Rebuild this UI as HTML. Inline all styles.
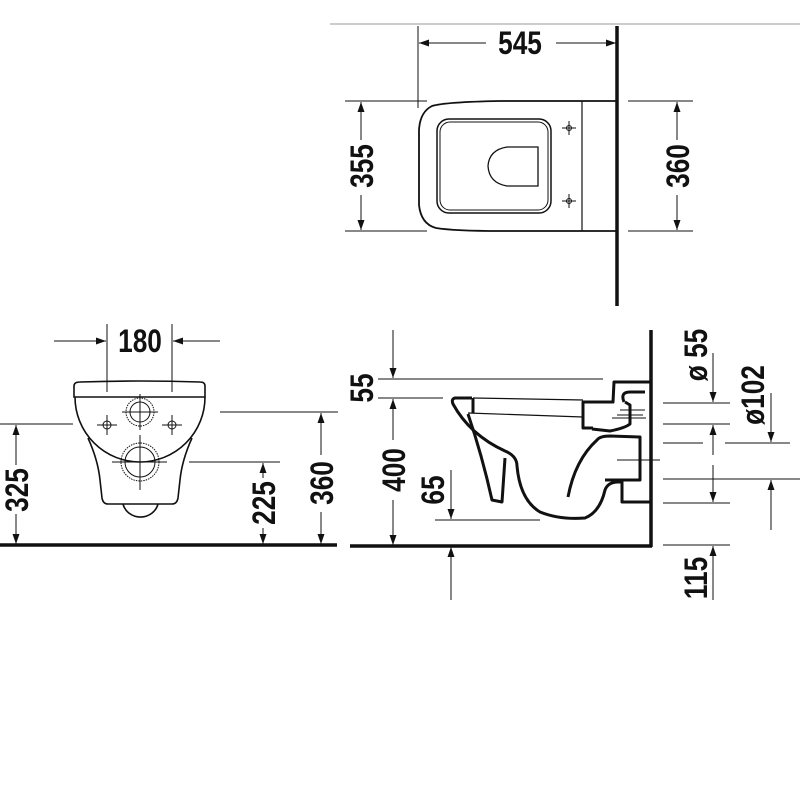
<!DOCTYPE html>
<html><head><meta charset="utf-8"><style>
html,body{margin:0;padding:0;background:#fff;}
svg{display:block;}
text{font-family:"Liberation Sans",sans-serif;font-weight:bold;font-size:32px;fill:#111;}
</style></head><body>
<svg width="800" height="800" viewBox="0 0 800 800" xmlns="http://www.w3.org/2000/svg">
<defs>
<marker id="a" viewBox="0 0 10 10" refX="10" refY="5" markerWidth="16" markerHeight="10" markerUnits="userSpaceOnUse" orient="auto"><path d="M0,1.5 L10,5 L0,8.5 Z" fill="#111"/></marker>
</defs>
<g stroke="#111" fill="none" stroke-width="1">
<line x1="330" y1="24" x2="800" y2="24" stroke="#999"/>
<line x1="617" y1="26" x2="617" y2="306" stroke-width="3.5"/>
<line x1="418" y1="26" x2="418" y2="108"/>
<line x1="486" y1="43" x2="419" y2="43" marker-end="url(#a)"/>
<line x1="556" y1="43" x2="616" y2="43" marker-end="url(#a)"/>
<line x1="345" y1="101" x2="427" y2="101"/>
<line x1="345" y1="231" x2="427" y2="231"/>
<line x1="361" y1="140" x2="361" y2="102" marker-end="url(#a)"/>
<line x1="361" y1="195" x2="361" y2="230" marker-end="url(#a)"/>
<line x1="628" y1="101" x2="693" y2="101"/>
<line x1="628" y1="231" x2="693" y2="231"/>
<line x1="677" y1="140" x2="677" y2="102" marker-end="url(#a)"/>
<line x1="677" y1="195" x2="677" y2="230" marker-end="url(#a)"/>
<path d="M617,101 L500,101 Q445,102 432,106 Q420,112 419,130 L419,205 Q421,224 436,228 Q455,231 500,231 L617,231" stroke-width="1.8"/>
<line x1="582" y1="101" x2="582" y2="231" stroke-width="1.2"/>
<rect x="437" y="119" width="114" height="94" rx="12" stroke-width="1.5"/>
<rect x="440" y="122" width="108" height="88" rx="10" stroke-width="1"/>
<path d="M538,147 L507,147 Q489,150 488,166 Q489,183 507,186 L538,186 Z" stroke-width="1.3"/>
<g stroke-width="1"><circle cx="569" cy="128" r="2.5"/><line x1="562" y1="128" x2="576" y2="128"/><line x1="569" y1="121" x2="569" y2="135"/>
<circle cx="569" cy="201" r="2.5"/><line x1="562" y1="201" x2="576" y2="201"/><line x1="569" y1="194" x2="569" y2="208"/></g>

<line x1="0" y1="545" x2="337" y2="545" stroke-width="3.5"/>
<line x1="107" y1="324" x2="107" y2="392"/>
<line x1="172" y1="324" x2="172" y2="392"/>
<line x1="54" y1="341" x2="106" y2="341" marker-end="url(#a)"/>
<line x1="220" y1="341" x2="173" y2="341" marker-end="url(#a)"/>
<path d="M74,397 L74,386 Q74,382 80,382 Q140,380 200,382 Q205,382 205,386 L205,397 Z" stroke-width="1.6"/>
<path d="M75,397 A65,65 0 0 0 205,397" stroke-width="1.6"/>
<path d="M88,438 Q98,460 100,480 L102,498 Q103,504 108,504 L172,504 Q177,504 178,498 L180,480 Q182,460 192,438" stroke-width="1.6"/>
<path d="M123,504 A18,17 0 0 0 158,504" stroke-width="1.6"/>
<circle cx="140" cy="412" r="14" stroke-dasharray="1.5 1"/><circle cx="140" cy="412" r="10"/>
<line x1="122" y1="412" x2="158" y2="412"/><line x1="140" y1="394" x2="140" y2="430"/>
<circle cx="140" cy="462" r="19" stroke-dasharray="1.5 1"/><circle cx="140" cy="462" r="15"/>
<line x1="112" y1="462" x2="167" y2="462"/><line x1="140" y1="435" x2="140" y2="490"/>
<circle cx="107" cy="425" r="4"/><line x1="97" y1="425" x2="117" y2="425"/><line x1="107" y1="415" x2="107" y2="435"/>
<circle cx="172" cy="425" r="4"/><line x1="162" y1="425" x2="182" y2="425"/><line x1="172" y1="415" x2="172" y2="435"/>
<line x1="0" y1="424" x2="73" y2="424"/>
<line x1="16" y1="465" x2="16" y2="425" marker-end="url(#a)"/>
<line x1="16" y1="514" x2="16" y2="544" marker-end="url(#a)"/>
<line x1="189" y1="462" x2="280" y2="462"/>
<line x1="263" y1="478" x2="263" y2="463" marker-end="url(#a)"/>
<line x1="263" y1="528" x2="263" y2="544" marker-end="url(#a)"/>
<line x1="220" y1="412" x2="338" y2="412"/>
<line x1="321" y1="455" x2="321" y2="413" marker-end="url(#a)"/>
<line x1="321" y1="512" x2="321" y2="544" marker-end="url(#a)"/>

<line x1="350" y1="546" x2="652" y2="546" stroke-width="3.5"/>
<line x1="651" y1="330" x2="651" y2="547" stroke-width="3.5"/>
<line x1="378" y1="379" x2="603" y2="379"/>
<line x1="378" y1="398" x2="443" y2="398"/>
<line x1="393" y1="330" x2="393" y2="378" marker-end="url(#a)"/>
<line x1="393" y1="440" x2="393" y2="399" marker-end="url(#a)"/>
<line x1="393" y1="500" x2="393" y2="545" marker-end="url(#a)"/>
<line x1="435" y1="520" x2="540" y2="520"/>
<line x1="451" y1="470" x2="451" y2="519" marker-end="url(#a)"/>
<line x1="451" y1="600" x2="451" y2="547" marker-end="url(#a)"/>
<g stroke-width="3" stroke-linejoin="round">
<path d="M472,398 L455,398 Q451,399 453,404 Q470,435 505,451 Q517,456 517,466 Q520,500 540,512 Q560,520 585,518 Q600,512 605,490 Q608,482 618,482 L622,482 L622,502 L650,502"/>
<path d="M468,414 Q482,455 492,500 L502,502 L505,458"/>
<line x1="473" y1="398" x2="473" y2="413"/>
<path d="M568,497 Q575,460 597,440 Q600,436 610,436 L640,437 L640,480 L605,480"/>
<path d="M593,428 L583,428 L583,402 L613,402 L614,382 L650,382"/>
<path d="M592,429 L610,431 Q625,428 630,424 L630,405 L625,402"/>
<path d="M624,402 Q620,392 630,392 L645,392"/>
</g>
<line x1="473" y1="398" x2="583" y2="400" stroke-width="1.2"/>
<line x1="468" y1="413" x2="583" y2="417" stroke-width="1.2"/>
<line x1="620" y1="410" x2="645" y2="410"/>
<line x1="617" y1="415" x2="643" y2="415"/>
<line x1="612" y1="418" x2="646" y2="418"/>
<line x1="617" y1="460" x2="660" y2="460"/>
<line x1="663" y1="403" x2="730" y2="403"/>
<line x1="663" y1="424" x2="730" y2="424"/>
<line x1="663" y1="443" x2="703" y2="443"/>
<line x1="725" y1="443" x2="790" y2="443"/>
<line x1="663" y1="479" x2="800" y2="479"/>
<line x1="663" y1="503" x2="730" y2="503"/>
<line x1="663" y1="545" x2="730" y2="545"/>
<line x1="713" y1="353" x2="713" y2="402" marker-end="url(#a)"/>
<line x1="713" y1="455" x2="713" y2="425" marker-end="url(#a)"/>
<line x1="713" y1="465" x2="713" y2="502" marker-end="url(#a)"/>
<line x1="713" y1="600" x2="713" y2="546" marker-end="url(#a)"/>
<line x1="771" y1="393" x2="771" y2="442" marker-end="url(#a)"/>
<line x1="771" y1="530" x2="771" y2="480" marker-end="url(#a)"/>
</g>
<g>
<text transform="translate(520,54) scale(0.82,1)" text-anchor="middle">545</text>
<text transform="translate(373,166) rotate(-90) scale(0.82,1)" text-anchor="middle">355</text>
<text transform="translate(689,166) rotate(-90) scale(0.82,1)" text-anchor="middle">360</text>
<text transform="translate(140,352) scale(0.82,1)" text-anchor="middle">180</text>
<text transform="translate(28,490) rotate(-90) scale(0.82,1)" text-anchor="middle">325</text>
<text transform="translate(275,503) rotate(-90) scale(0.82,1)" text-anchor="middle">225</text>
<text transform="translate(333,483) rotate(-90) scale(0.82,1)" text-anchor="middle">360</text>
<text transform="translate(373,388) rotate(-90) scale(0.82,1)" text-anchor="middle">55</text>
<text transform="translate(405,470) rotate(-90) scale(0.82,1)" text-anchor="middle">400</text>
<text transform="translate(444,490) rotate(-90) scale(0.82,1)" text-anchor="middle">65</text>
<text transform="translate(707,355) rotate(-90) scale(0.82,1)" text-anchor="middle">ø 55</text>
<text transform="translate(764,395) rotate(-90) scale(0.82,1)" text-anchor="middle">ø102</text>
<text transform="translate(707,578) rotate(-90) scale(0.82,1)" text-anchor="middle">115</text>
</g>
</svg>
</body></html>
